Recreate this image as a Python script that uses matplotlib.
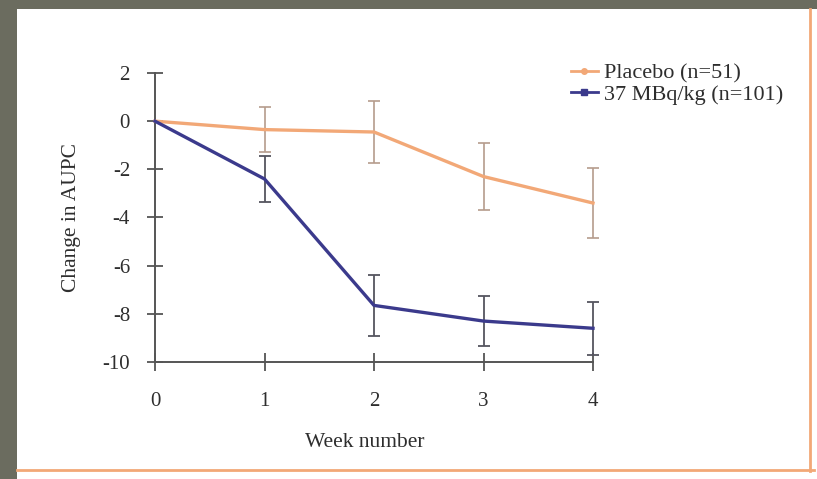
import matplotlib
matplotlib.use("Agg")
import matplotlib.pyplot as plt
from matplotlib.lines import Line2D
from matplotlib.patches import Rectangle

plt.rcParams['font.family'] = ['Liberation Serif', 'DejaVu Serif']
plt.rcParams['axes.unicode_minus'] = False

weeks = [0, 1, 2, 3, 4]
placebo = [0, -0.35, -0.45, -2.3, -3.4]
placebo_err = [0, 0.95, 1.3, 1.4, 1.45]
treated = [0, -2.4, -7.65, -8.3, -8.6]
treated_err = [0, 0.95, 1.25, 1.05, 1.1]
labels = ['Placebo (n=51)', '37 MBq/kg (n=101)']

orange = '#f2a877'
blue = '#3b3a8c'
axis_col = '#555555'
text_col = '#2e2e2e'

fig = plt.figure(figsize=(8.17, 4.79), dpi=100)
fig.patch.set_facecolor('#6b6c5f')
# white scanned page with orange frame lines
fig.patches.append(Rectangle((17 / 817, 0), 1, 1 - 9 / 479, transform=fig.transFigure,
                             facecolor='white', edgecolor='none', zorder=-10))
fig.lines.append(Line2D([810 / 817, 810 / 817], [1 - 9 / 479, 1 - 471 / 479],
                        transform=fig.transFigure, color=orange, lw=2, zorder=-9))
fig.lines.append(Line2D([17 / 817, 814 / 817], [1 - 470 / 479, 1 - 470 / 479],
                        transform=fig.transFigure, color=orange, lw=2, zorder=-9))

ax = fig.add_axes([155 / 817, 1 - 362 / 479, 438 / 817, 289 / 479])
ax.set_facecolor('none')
ax.set_zorder(1)

ax.errorbar(weeks[1:], placebo[1:], yerr=placebo_err[1:], fmt='none', ecolor='#b59c8c',
            elinewidth=1.2, capsize=4, capthick=1.2, clip_on=False, zorder=2)
ax.errorbar(weeks[1:], treated[1:], yerr=treated_err[1:], fmt='none', ecolor='#55555f',
            elinewidth=1.3, capsize=4, capthick=1.3, clip_on=False, zorder=2)
ax.plot(weeks, placebo, color=orange, lw=2.4, clip_on=False, zorder=3)
ax.plot(weeks, treated, color=blue, lw=2.4, clip_on=False, zorder=3)

ax.set_xlim(0, 4)
ax.set_ylim(-10, 2)
ax.set_xticks(weeks)
ax.set_yticks([2, 0, -2, -4, -6, -8, -10])
for s in ['top', 'right']:
    ax.spines[s].set_visible(False)
for s in ['left', 'bottom']:
    ax.spines[s].set_color(axis_col)
    ax.spines[s].set_linewidth(1.4)
ax.tick_params(axis='y', direction='inout', length=12, width=1.3, color=axis_col,
               labelsize=15, labelcolor=text_col, pad=12)
ax.tick_params(axis='x', direction='inout', length=13, width=1.3, color=axis_col,
               labelsize=15, labelcolor=text_col, pad=15)

ax.set_ylabel('Change in AUPC', fontsize=15.5, color=text_col)
ax.yaxis.set_label_coords(-0.17, 0.5)
ax.set_xlabel('Week number', fontsize=15.5, color=text_col)
ax.xaxis.set_label_coords(0.48, -0.247)

handles = [Line2D([], [], color=orange, lw=2, marker='o', markersize=4),
           Line2D([], [], color=blue, lw=2, marker='s', markersize=4)]
ax.legend(handles, labels, loc='upper left', bbox_to_anchor=(571 / 817, 1 - 63 / 479),
          bbox_transform=fig.transFigure, frameon=False, fontsize=16, handlelength=1.2,
          handletextpad=0.3, labelspacing=0.05, borderpad=0, borderaxespad=0,
          labelcolor=text_col)

fig.savefig('out.png', dpi=100, facecolor=fig.get_facecolor())
